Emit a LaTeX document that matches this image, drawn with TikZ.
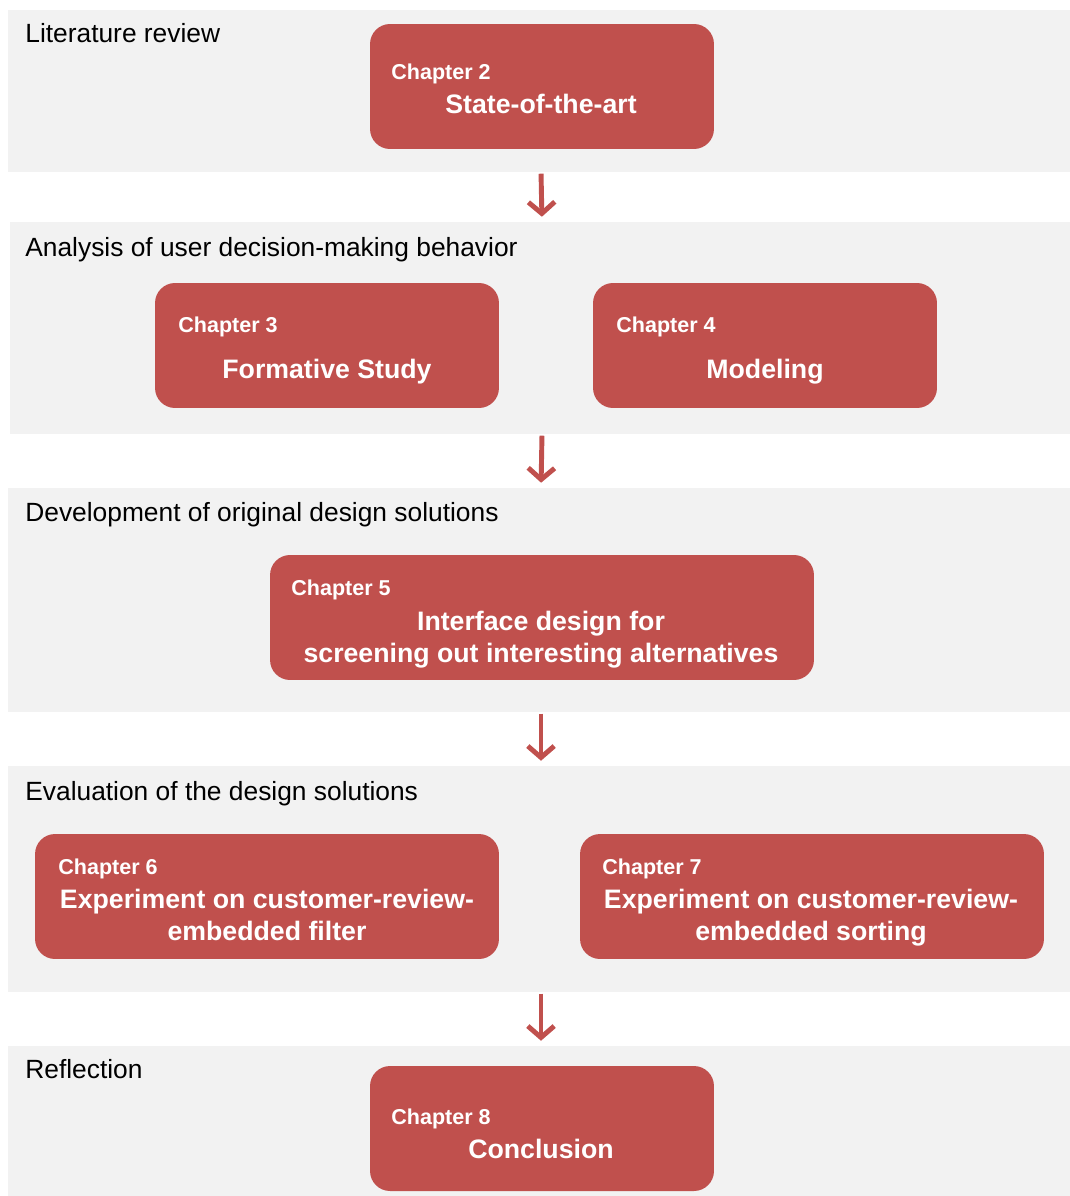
\documentclass[tikz,border=0pt]{standalone}
\usepackage{fontspec}
\setmainfont{Liberation Sans}
\usetikzlibrary{arrows.meta}
\definecolor{chapred}{RGB}{192,80,77}
\definecolor{bandgray}{RGB}{242,242,242}

\begin{document}
\begin{tikzpicture}[x=0.02cm, y=-0.02cm,
    band/.style={fill=bandgray, inner sep=0pt, outer sep=0pt, anchor=north west, minimum width=21.24cm},
    chapbox/.style={fill=chapred, rounded corners=0.4cm, minimum height=2.5cm, inner sep=0pt},
    phase/.style={anchor=base west, inner sep=0pt, font=\fontsize{15}{18}\selectfont},
    chapnum/.style={anchor=base west, inner sep=0pt, text=white, font=\bfseries\fontsize{12.25}{14}\selectfont},
    chaptitle/.style={anchor=base, inner sep=0pt, text=white, align=center, font=\bfseries\fontsize{15.2}{18}\selectfont},
    flow/.style={chapred, line width=2.8pt, shorten <=1pt, shorten >=3pt, -{Straight Barb[length=6.5pt,width=15pt,line width=2.8pt]}}
]
    \useasboundingbox (0,0) rectangle (1070,1196);

    % Phase bands
    \node[band, minimum height=3.24cm] (band1) at (8,10) {};
    \node[band, minimum height=4.24cm, minimum width=21.2cm] (band2) at (10,222) {};
    \node[band, minimum height=4.48cm] (band3) at (8,488) {};
    \node[band, minimum height=4.52cm] (band4) at (8,766) {};
    \node[band, minimum height=3.0cm] (band5) at (8,1046) {};

    \node[phase] (ph1) at (25,43) {Literature review};
    \node[phase] (ph2) at (25,256) {Analysis of user decision-making behavior};
    \node[phase] (ph3) at (25,521) {Development of original design solutions};
    \node[phase] (ph4) at (25,800) {Evaluation of the design solutions};
    \node[phase] (ph5) at (25,1078) {Reflection};

    % Chapter boxes
    \node[chapbox, minimum width=6.88cm] (ch2) at (542,86.5) {};
    \node[chapbox, minimum width=6.88cm] (ch3) at (327,345.5) {};
    \node[chapbox, minimum width=6.88cm] (ch4) at (765,345.5) {};
    \node[chapbox, minimum width=10.88cm] (ch5) at (542,617.5) {};
    \node[chapbox, minimum width=9.28cm] (ch6) at (267,896.5) {};
    \node[chapbox, minimum width=9.28cm] (ch7) at (812,896.5) {};
    \node[chapbox, minimum width=6.88cm] (ch8) at (542,1128.5) {};

    % Chapter numbers
    \foreach \n/\x/\y in {2/391/80, 3/178/332, 4/616/332, 5/291/595, 6/58/874, 7/602/874, 8/391/1124}
        \node[chapnum] (num\n) at (\x,\y) {Chapter \n};

    % Chapter titles (base sits on the last line)
    \node[chaptitle] (t2) at (541,114) {State-of-the-art};
    \node[chaptitle] (t3) at (327,378) {Formative Study};
    \node[chaptitle] (t4) at (765,378) {Modeling};
    \node[chaptitle] (t5) at (541,662) {Interface design for\\screening out interesting alternatives};
    \node[chaptitle] (t6) at (267,940) {Experiment on customer-review-\\embedded filter};
    \node[chaptitle] (t7) at (811,940) {Experiment on customer-review-\\embedded sorting};
    \node[chaptitle] (t8) at (541,1158) {Conclusion};

    % Flow between phases
    \foreach \a/\b in {1/2, 2/3, 3/4, 4/5}
        \draw[flow] ([xshift=1.2pt]band\a.south) -- ([xshift=1.2pt]band\b.north);
\end{tikzpicture}
\end{document}
